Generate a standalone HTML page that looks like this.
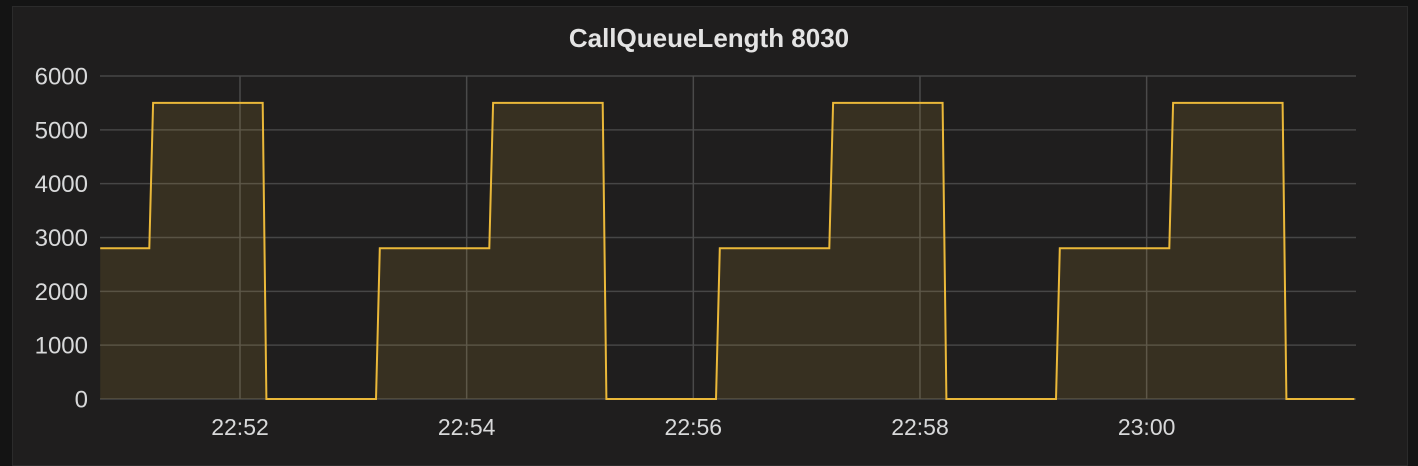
<!DOCTYPE html>
<html><head><meta charset="utf-8"><style>
html,body{margin:0;padding:0;background:#141414;width:1418px;height:448px;overflow:hidden;font-family:"Liberation Sans",sans-serif;}
#panel{position:absolute;left:12px;top:6px;width:1396px;height:460px;background:#1f1e1e;border:1px solid #2b2b2b;box-sizing:border-box;}
#title{position:absolute;left:0;top:23px;width:1418px;text-align:center;color:#e4e4e4;font-weight:bold;font-size:26px;}
svg{position:absolute;left:0;top:0;}
</style></head><body>
<div id="panel"></div>
<div id="title">CallQueueLength 8030</div>
<svg id="chart" width="1418" height="448"></svg>
<script>
// seconds since 22:50:00
const times  = [46,72,74,132,134,192,194,252,254,312,314,372,374,432,434,492,494,552,554,612,614,672,674,710];
const values = [2800,2800,5500,5500,0,0,2800,2800,5500,5500,0,0,2800,2800,5500,5500,0,0,2800,2800,5500,5500,0,0];
const yTicks = [0,1000,2000,3000,4000,5000,6000];
const xTicks = [120,240,360,480,600];
const xTickLabels = ["22:52","22:54","22:56","22:58","23:00"];

const X0=100,X1=1356,Y0=399,Y1=76;
const xs=t=>240+(t-120)*(113.33/60);
const ys=v=>Y0-(v/6000)*(Y0-Y1);
const svg=document.getElementById('chart');
const NS='http://www.w3.org/2000/svg';
function mk(tag,attrs){const e=document.createElementNS(NS,tag);for(const k in attrs)e.setAttribute(k,attrs[k]);svg.appendChild(e);return e;}
yTicks.forEach(v=>{
  const l=mk('line',{x1:X0,x2:X1,y1:ys(v),y2:ys(v),stroke:'#464646','stroke-width':1.5});
  
  
  const t=mk('text',{x:88,y:ys(v)+8.5,'text-anchor':'end',fill:'#d8d9da','font-size':24,'font-family':'Liberation Sans, sans-serif'});
  t.textContent=v;
  
  
});
xTicks.forEach((s,i)=>{
  const l=mk('line',{x1:xs(s),x2:xs(s),y1:Y1,y2:Y0,stroke:'#4a4a4a','stroke-width':1.5});
  
  
  const t=mk('text',{x:xs(s),y:435,'text-anchor':'middle',fill:'#d8d9da','font-size':23,'font-family':'Liberation Sans, sans-serif'});
  t.textContent=xTickLabels[i];
  
  
});
let d='';
times.forEach((t,i)=>{d+=(i?'L':'M')+xs(t).toFixed(1)+' '+ys(values[i]).toFixed(1)+' ';});
const area=mk('path',{d:d+'L'+xs(times[times.length-1])+' '+Y0+' L'+xs(times[0])+' '+Y0+' Z',fill:'rgba(234,184,57,0.12)'});


const line=mk('path',{d:d,fill:'none',stroke:'#eab839','stroke-width':2});


</script>
</body></html>
